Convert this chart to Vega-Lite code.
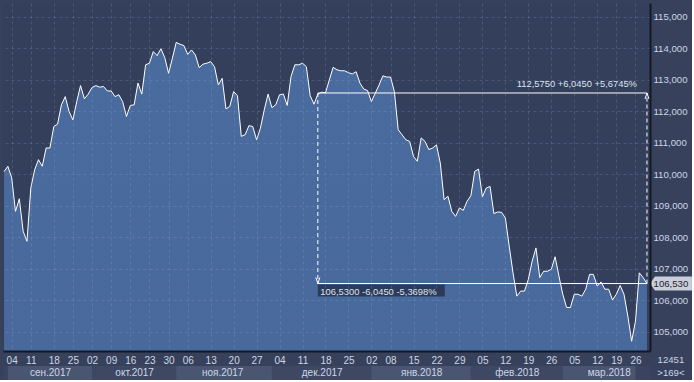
{
  "$schema": "https://vega.github.io/schema/vega-lite/v6.json",
  "background": "#37415c",
  "padding": {"left": 3, "top": 3, "right": 0, "bottom": 0},
  "autosize": {"type": "pad"},
  "bounds": "flush",
  "spacing": 15,
  "config": {
    "view": {"stroke": null},
    "font": "Liberation Sans",
    "locale": {"number": {"decimal": ",", "thousands": " ", "grouping": [3], "currency": ["", ""]}}
  },
  "resolve": {"scale": {"x": "shared"}},
  "datasets": {
    "usdjpy": [
      {"date": "2017-08-31", "close": 110.08}, {"date": "2017-09-01", "close": 110.25}, {"date": "2017-09-04", "close": 109.89},
      {"date": "2017-09-05", "close": 108.82}, {"date": "2017-09-06", "close": 109.22}, {"date": "2017-09-07", "close": 108.19},
      {"date": "2017-09-08", "close": 107.87}, {"date": "2017-09-11", "close": 109.56}, {"date": "2017-09-12", "close": 110.14},
      {"date": "2017-09-13", "close": 110.46}, {"date": "2017-09-14", "close": 110.25}, {"date": "2017-09-15", "close": 110.83},
      {"date": "2017-09-17", "close": 110.83}, {"date": "2017-09-18", "close": 111.51}, {"date": "2017-09-19", "close": 111.59},
      {"date": "2017-09-20", "close": 112.20}, {"date": "2017-09-21", "close": 112.46}, {"date": "2017-09-22", "close": 111.99},
      {"date": "2017-09-25", "close": 111.72}, {"date": "2017-09-26", "close": 112.30}, {"date": "2017-09-27", "close": 112.81},
      {"date": "2017-09-28", "close": 112.39}, {"date": "2017-09-29", "close": 112.54}, {"date": "2017-10-02", "close": 112.75},
      {"date": "2017-10-03", "close": 112.81}, {"date": "2017-10-04", "close": 112.76}, {"date": "2017-10-05", "close": 112.78},
      {"date": "2017-10-06", "close": 112.64}, {"date": "2017-10-09", "close": 112.64}, {"date": "2017-10-10", "close": 112.46},
      {"date": "2017-10-11", "close": 112.52}, {"date": "2017-10-12", "close": 112.30}, {"date": "2017-10-13", "close": 111.83},
      {"date": "2017-10-16", "close": 112.18}, {"date": "2017-10-17", "close": 112.20}, {"date": "2017-10-18", "close": 112.89},
      {"date": "2017-10-19", "close": 112.54}, {"date": "2017-10-20", "close": 113.47}, {"date": "2017-10-23", "close": 113.52},
      {"date": "2017-10-24", "close": 113.89}, {"date": "2017-10-25", "close": 113.76}, {"date": "2017-10-26", "close": 113.98},
      {"date": "2017-10-27", "close": 113.70}, {"date": "2017-10-30", "close": 113.20}, {"date": "2017-10-31", "close": 113.68},
      {"date": "2017-11-01", "close": 114.18}, {"date": "2017-11-02", "close": 114.12}, {"date": "2017-11-03", "close": 114.08},
      {"date": "2017-11-06", "close": 113.80}, {"date": "2017-11-07", "close": 113.94}, {"date": "2017-11-08", "close": 113.78},
      {"date": "2017-11-09", "close": 113.38}, {"date": "2017-11-10", "close": 113.49}, {"date": "2017-11-12", "close": 113.52},
      {"date": "2017-11-13", "close": 113.57}, {"date": "2017-11-14", "close": 113.41}, {"date": "2017-11-15", "close": 112.83},
      {"date": "2017-11-16", "close": 113.04}, {"date": "2017-11-17", "close": 112.07}, {"date": "2017-11-19", "close": 112.15},
      {"date": "2017-11-20", "close": 112.62}, {"date": "2017-11-21", "close": 112.49}, {"date": "2017-11-22", "close": 111.20},
      {"date": "2017-11-23", "close": 111.25}, {"date": "2017-11-24", "close": 111.54}, {"date": "2017-11-26", "close": 111.51},
      {"date": "2017-11-27", "close": 111.09}, {"date": "2017-11-28", "close": 111.46}, {"date": "2017-11-29", "close": 112.04},
      {"date": "2017-11-30", "close": 112.54}, {"date": "2017-12-01", "close": 112.11}, {"date": "2017-12-03", "close": 112.20},
      {"date": "2017-12-04", "close": 112.52}, {"date": "2017-12-05", "close": 112.54}, {"date": "2017-12-06", "close": 112.18},
      {"date": "2017-12-07", "close": 113.10}, {"date": "2017-12-08", "close": 113.47}, {"date": "2017-12-10", "close": 113.47},
      {"date": "2017-12-11", "close": 113.52}, {"date": "2017-12-12", "close": 113.41}, {"date": "2017-12-13", "close": 112.49},
      {"date": "2017-12-14", "close": 112.22}, {"date": "2017-12-15", "close": 112.54}, {"date": "2017-12-17", "close": 112.60},
      {"date": "2017-12-18", "close": 112.58}, {"date": "2017-12-19", "close": 112.99}, {"date": "2017-12-20", "close": 113.39},
      {"date": "2017-12-21", "close": 113.31}, {"date": "2017-12-22", "close": 113.28}, {"date": "2017-12-24", "close": 113.28},
      {"date": "2017-12-25", "close": 113.22}, {"date": "2017-12-26", "close": 113.18}, {"date": "2017-12-27", "close": 113.25},
      {"date": "2017-12-28", "close": 112.89}, {"date": "2017-12-29", "close": 112.70}, {"date": "2017-12-31", "close": 112.65},
      {"date": "2018-01-02", "close": 112.30}, {"date": "2018-01-03", "close": 112.57}, {"date": "2018-01-04", "close": 112.83},
      {"date": "2018-01-05", "close": 113.12}, {"date": "2018-01-07", "close": 113.08}, {"date": "2018-01-08", "close": 113.08},
      {"date": "2018-01-09", "close": 112.62}, {"date": "2018-01-10", "close": 111.41}, {"date": "2018-01-11", "close": 111.25},
      {"date": "2018-01-12", "close": 111.09}, {"date": "2018-01-14", "close": 111.04}, {"date": "2018-01-15", "close": 110.56},
      {"date": "2018-01-16", "close": 110.41}, {"date": "2018-01-17", "close": 111.15}, {"date": "2018-01-18", "close": 111.04},
      {"date": "2018-01-19", "close": 110.78}, {"date": "2018-01-21", "close": 110.83}, {"date": "2018-01-22", "close": 110.93},
      {"date": "2018-01-23", "close": 110.35}, {"date": "2018-01-24", "close": 109.19}, {"date": "2018-01-25", "close": 109.30},
      {"date": "2018-01-26", "close": 108.82}, {"date": "2018-01-28", "close": 108.66}, {"date": "2018-01-29", "close": 108.93},
      {"date": "2018-01-30", "close": 108.85}, {"date": "2018-01-31", "close": 109.14}, {"date": "2018-02-01", "close": 109.32},
      {"date": "2018-02-02", "close": 110.09}, {"date": "2018-02-04", "close": 110.16}, {"date": "2018-02-05", "close": 109.28},
      {"date": "2018-02-06", "close": 109.56}, {"date": "2018-02-07", "close": 109.61}, {"date": "2018-02-08", "close": 108.75},
      {"date": "2018-02-09", "close": 108.80}, {"date": "2018-02-11", "close": 108.79}, {"date": "2018-02-12", "close": 108.61},
      {"date": "2018-02-13", "close": 107.72}, {"date": "2018-02-14", "close": 106.87}, {"date": "2018-02-15", "close": 106.13},
      {"date": "2018-02-16", "close": 106.29}, {"date": "2018-02-18", "close": 106.29}, {"date": "2018-02-19", "close": 106.66},
      {"date": "2018-02-20", "close": 107.24}, {"date": "2018-02-21", "close": 107.66}, {"date": "2018-02-22", "close": 106.72},
      {"date": "2018-02-23", "close": 106.92}, {"date": "2018-02-25", "close": 106.92}, {"date": "2018-02-26", "close": 106.98},
      {"date": "2018-02-27", "close": 107.38}, {"date": "2018-02-28", "close": 106.77}, {"date": "2018-03-01", "close": 106.19},
      {"date": "2018-03-02", "close": 105.77}, {"date": "2018-03-04", "close": 105.77}, {"date": "2018-03-05", "close": 106.19},
      {"date": "2018-03-06", "close": 106.19}, {"date": "2018-03-07", "close": 106.13}, {"date": "2018-03-08", "close": 106.35},
      {"date": "2018-03-09", "close": 106.82}, {"date": "2018-03-11", "close": 106.82}, {"date": "2018-03-12", "close": 106.45},
      {"date": "2018-03-13", "close": 106.58}, {"date": "2018-03-14", "close": 106.35}, {"date": "2018-03-15", "close": 106.35},
      {"date": "2018-03-16", "close": 106.01}, {"date": "2018-03-19", "close": 106.19}, {"date": "2018-03-20", "close": 106.47},
      {"date": "2018-03-21", "close": 106.19}, {"date": "2018-03-22", "close": 105.50}, {"date": "2018-03-23", "close": 104.70},
      {"date": "2018-03-26", "close": 105.34}, {"date": "2018-03-27", "close": 106.87}, {"date": "2018-03-28", "close": 106.72},
      {"date": "2018-03-29", "close": 106.53}
    ],
    "annot": [
      {"start": "2017-12-15", "end": "2018-03-29", "high": 112.575, "low": 106.53,
       "hiText": "112,5750  +6,0450  +5,6745%", "loText": "106,5300  -6,0450  -5,3698%", "tag": "106,530",
       "bars": "12451", "visible": ">169<"}
    ],
    "months": [
      {"label": "сен.2017", "start": "2017-09-01", "end": "2017-10-02"},
      {"label": "окт.2017", "start": "2017-10-02", "end": "2017-11-01"},
      {"label": "ноя.2017", "start": "2017-11-01", "end": "2017-12-01"},
      {"label": "дек.2017", "start": "2017-12-01", "end": "2018-01-02"},
      {"label": "янв.2018", "start": "2018-01-02", "end": "2018-02-01"},
      {"label": "фев.2018", "start": "2018-02-01", "end": "2018-03-01"},
      {"label": "мар.2018", "start": "2018-03-01", "end": "2018-03-26"}
    ]
  },
  "vconcat": [
    {
      "width": 647,
      "height": 348,
      "view": {"fill": "#343f5c", "stroke": null},
      "layer": [
        {
          "data": {"name": "usdjpy"},
          "mark": {
            "type": "area",
            "clip": true,
            "fillOpacity": 1,
            "fill": {"gradient": "linear", "x1": 0, "y1": 0, "x2": 0, "y2": 1,
                     "stops": [{"offset": 0, "color": "#4a6b9e"}, {"offset": 1, "color": "#3b5684"}]},
            "line": {"color": "#ffffff", "strokeWidth": 1}
          },
          "encoding": {
            "x": {
              "field": "date", "type": "ordinal",
              "scale": {"type": "point", "padding": 0.53, "align": 0.25},
              "axis": {
                "title": null,
                "values": ["2017-09-04", "2017-09-11", "2017-09-18", "2017-09-25", "2017-10-02", "2017-10-09",
                           "2017-10-16", "2017-10-23", "2017-10-30", "2017-11-06", "2017-11-13", "2017-11-20",
                           "2017-11-27", "2017-12-04", "2017-12-11", "2017-12-18", "2017-12-25", "2018-01-02",
                           "2018-01-08", "2018-01-15", "2018-01-22", "2018-01-29", "2018-02-05", "2018-02-12",
                           "2018-02-19", "2018-02-26", "2018-03-05", "2018-03-12", "2018-03-19", "2018-03-26"],
                "labelExpr": "substring(datum.value, 8, 10)",
                "labelAngle": 0,
                "labelColor": "#cdd6e6",
                "labelFontSize": 10,
                "labelFont": "Liberation Sans",
                "labelPadding": 4,
                "labelOverlap": false,
                "labelFlush": false,
                "labelBound": false,
                "ticks": false,
                "domainColor": "#141925",
                "domainWidth": 2,
                "grid": true,
                "gridColor": "#9db3d9",
                "gridOpacity": 0.22,
                "gridDash": [3, 3],
                "zindex": 1
              }
            },
            "y": {
              "field": "close", "type": "quantitative",
              "scale": {"domain": [104.39, 115.43], "nice": false, "zero": false},
              "axis": {
                "title": null,
                "orient": "right",
                "values": [105, 106, 107, 108, 109, 110, 111, 112, 113, 114, 115],
                "tickCount": 20,
                "format": ".3f",
                "labelColor": "#cdd6e6",
                "labelFontSize": 9.6,
                "labelFont": "Liberation Sans",
                "labelPadding": 3,
                "labelOverlap": false,
                "labelBound": false,
                "labelFlush": false,
                "ticks": false,
                "domainColor": "#141925",
                "domainWidth": 2,
                "grid": true,
                "gridColor": "#9db3d9",
                "gridOpacity": 0.22,
                "gridDash": [3, 3],
                "zindex": 1
              }
            }
          }
        },
        {
          "data": {"name": "annot"},
          "layer": [
            {
              "mark": {"type": "rule", "color": "#ffffff", "strokeWidth": 1},
              "encoding": {
                "x": {"field": "start", "type": "ordinal"},
                "x2": {"field": "end"},
                "y": {"field": "high", "type": "quantitative"}
              }
            },
            {
              "mark": {"type": "rule", "color": "#ffffff", "strokeWidth": 1},
              "encoding": {
                "x": {"field": "start", "type": "ordinal"},
                "x2": {"field": "end"},
                "y": {"field": "low", "type": "quantitative"}
              }
            },
            {
              "mark": {"type": "rule", "color": "#ffffff", "strokeWidth": 1, "strokeDash": [4, 3]},
              "encoding": {
                "x": {"field": "start", "type": "ordinal"},
                "y": {"field": "high", "type": "quantitative"},
                "y2": {"field": "low"}
              }
            },
            {
              "mark": {"type": "rule", "color": "#ffffff", "strokeWidth": 1, "strokeDash": [4, 3]},
              "encoding": {
                "x": {"field": "end", "type": "ordinal"},
                "y": {"field": "low", "type": "quantitative"},
                "y2": {"field": "high"}
              }
            },
            {
              "mark": {"type": "point", "shape": "M-1,-3L0,0L1,-3", "size": 16, "filled": false, "stroke": "#ffffff", "strokeWidth": 1, "opacity": 1},
              "encoding": {
                "x": {"field": "start", "type": "ordinal"},
                "y": {"field": "low", "type": "quantitative"}
              }
            },
            {
              "mark": {"type": "point", "shape": "M-1,3L0,0L1,3", "size": 16, "filled": false, "stroke": "#ffffff", "strokeWidth": 1, "opacity": 1},
              "encoding": {
                "x": {"field": "end", "type": "ordinal"},
                "y": {"field": "high", "type": "quantitative"}
              }
            },
            {
              "mark": {"type": "point", "shape": "M0,0.2L25.4,0.2L25.4,2.6L0,2.6Z", "size": 100, "filled": true, "fill": "#27304a", "fillOpacity": 0.8, "strokeWidth": 0},
              "encoding": {
                "x": {"field": "start", "type": "ordinal"},
                "y": {"field": "low", "type": "quantitative"}
              }
            },
            {
              "mark": {"type": "text", "align": "left", "baseline": "middle", "dx": 2.5, "dy": 8.5, "fontSize": 9.4, "font": "Liberation Sans", "color": "#dde4f0"},
              "encoding": {
                "x": {"field": "start", "type": "ordinal"},
                "y": {"field": "low", "type": "quantitative"},
                "text": {"field": "loText"}
              }
            },
            {
              "mark": {"type": "text", "align": "right", "baseline": "middle", "dx": -10, "dy": -8.5, "fontSize": 9.4, "font": "Liberation Sans", "color": "#dde4f0"},
              "encoding": {
                "x": {"field": "end", "type": "ordinal"},
                "y": {"field": "high", "type": "quantitative"},
                "text": {"field": "hiText"}
              }
            },
            {
              "mark": {"type": "point", "shape": "M0.3,0L0.8,-0.7L4.5,-0.7L4.5,0.7L0.8,0.7Z", "size": 400, "filled": true, "fill": "#c9ced8", "opacity": 1, "strokeWidth": 0},
              "encoding": {
                "x": {"field": "end", "type": "ordinal"},
                "y": {"field": "low", "type": "quantitative"}
              }
            },
            {
              "mark": {"type": "text", "align": "center", "baseline": "middle", "dx": 24, "fontSize": 9.6, "font": "Liberation Sans", "color": "#1e2433"},
              "encoding": {
                "x": {"field": "end", "type": "ordinal"},
                "y": {"field": "low", "type": "quantitative"},
                "text": {"field": "tag"}
              }
            },
            {
              "mark": {"type": "text", "align": "center", "baseline": "middle", "dx": 24, "dy": 28, "fontSize": 9.6, "font": "Liberation Sans", "color": "#cdd6e6"},
              "encoding": {
                "x": {"field": "end", "type": "ordinal"},
                "y": {"datum": 105, "type": "quantitative"},
                "text": {"field": "bars"}
              }
            },
            {
              "mark": {"type": "text", "align": "center", "baseline": "middle", "dx": 24, "dy": 41, "fontSize": 9.6, "font": "Liberation Sans", "color": "#cdd6e6"},
              "encoding": {
                "x": {"field": "end", "type": "ordinal"},
                "y": {"datum": 105, "type": "quantitative"},
                "text": {"field": "visible"}
              }
            }
          ]
        },
        {
          "mark": {"type": "text", "align": "left", "baseline": "middle", "dx": 1, "dy": 5, "fontSize": 10, "font": "Liberation Sans", "color": "#eef2f8", "text": "USD/JPY(JQ) 1D High = 114,725 Low = 104,635"},
          "encoding": {
            "x": {"datum": "2017-08-31", "type": "ordinal"},
            "y": {"datum": 115.43, "type": "quantitative"}
          }
        }
      ]
    },
    {
      "width": 647,
      "height": 14,
      "view": {"fill": "#3a4460", "stroke": null},
      "data": {"name": "months"},
      "mark": {"type": "rect"},
      "encoding": {
        "x": {
          "field": "start", "type": "ordinal",
          "axis": {
            "orient": "bottom",
            "offset": -14,
            "title": null,
            "values": ["2017-09-17", "2017-10-17", "2017-11-16", "2017-12-17", "2018-01-17", "2018-02-15", "2018-03-15"],
            "labelExpr": "(substring(datum.value, 5, 7) == '01' ? 'янв' : substring(datum.value, 5, 7) == '02' ? 'фев' : substring(datum.value, 5, 7) == '03' ? 'мар' : substring(datum.value, 5, 7) == '09' ? 'сен' : substring(datum.value, 5, 7) == '10' ? 'окт' : substring(datum.value, 5, 7) == '11' ? 'ноя' : 'дек') + '.' + substring(datum.value, 0, 4)",
            "labelAngle": 0,
            "labelColor": "#cdd6e6",
            "labelFontSize": 10,
            "labelFont": "Liberation Sans",
            "labelPadding": 1,
            "labelOverlap": false,
            "labelFlush": false,
            "labelBound": false,
            "ticks": false,
            "domain": false,
            "grid": false,
            "zindex": 1
          }
        },
        "x2": {"field": "end"},
        "color": {
          "field": "label", "type": "nominal",
          "scale": {
            "domain": ["сен.2017", "окт.2017", "ноя.2017", "дек.2017", "янв.2018", "фев.2018", "мар.2018"],
            "range": ["#4a5571", "#3e4863", "#4a5571", "#3e4863", "#4a5571", "#3e4863", "#4a5571"]
          },
          "legend": null
        }
      }
    }
  ]
}
